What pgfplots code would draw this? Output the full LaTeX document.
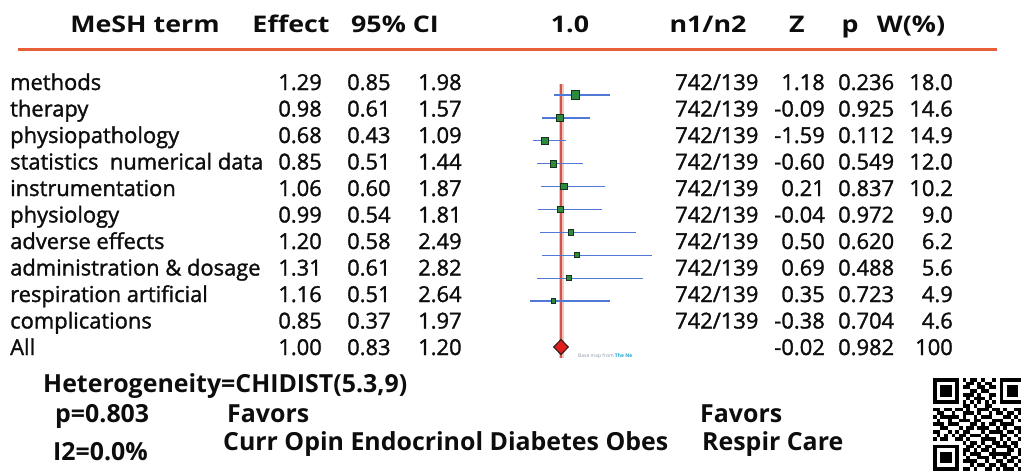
\documentclass[border=0pt]{standalone}
\usepackage{pgfplots}
\pgfplotsset{compat=1.18}
\usepackage{pgfplotstable}
\usepackage{fontspec}
\setmainfont{Open Sans}
\newfontfamily\bodyfont{Open Sans}[FakeBold=1.4]
\newfontfamily\hdrfont{Open Sans}[FakeStretch=1.17]
\definecolor{txt}{rgb}{0.05,0.05,0.05}
\definecolor{hline}{RGB}{230,95,55}
\definecolor{refred}{RGB}{205,85,75}
\definecolor{refhalo}{RGB}{245,195,190}
\definecolor{ciblue}{RGB}{80,120,215}
\definecolor{sqfill}{RGB}{45,140,60}
\definecolor{sqdraw}{RGB}{25,50,30}
\definecolor{dred}{RGB}{225,30,30}
\definecolor{ddark}{RGB}{60,30,30}
\definecolor{basegray}{RGB}{140,150,170}
\definecolor{basecyan}{RGB}{30,165,210}

\pgfplotstableread{
y eff lo hi w
95.0 1.29 0.85 1.98 18.0
117.9 0.98 0.61 1.57 14.6
140.8 0.68 0.43 1.09 14.9
163.7 0.85 0.51 1.44 12.0
186.6 1.06 0.60 1.87 10.2
209.5 0.99 0.54 1.81 9.0
232.4 1.20 0.58 2.49 6.2
255.3 1.31 0.61 2.82 5.6
278.2 1.16 0.51 2.64 4.9
301.1 0.85 0.37 1.97 4.6
}\fdata

\def\qrloop#1{%
  \ifx\relax#1\else
    \ifnum#1=1 \fill[black] (933+\qrx*3.7,378+\qry*3.7) rectangle ++(3.75,3.75);\fi
    \pgfmathtruncatemacro\qrx{\qrx+1}%
    \expandafter\qrloop
  \fi}

\begin{document}
\begin{tikzpicture}
\path[use as bounding box] (0,0) rectangle (1021bp,-473bp);
\begin{axis}[at={(0,0)}, anchor=north west, scale only axis,
  width=1021bp, height=473bp,
  xmin=-10.22, xmax=10.2, ymin=0, ymax=473, y dir=reverse,
  hide axis, clip=false]
\addplot[draw=refhalo, line width=5bp, forget plot] coordinates {(1,84) (1,358)};
\addplot[draw=refred, line width=2.2bp, forget plot] coordinates {(1,84) (1,358)};
\addplot[only marks, mark=none, forget plot,
  error bars/.cd, x dir=both, x explicit, error mark=none,
  error bar style={draw=ciblue, line width=1.3bp, solid}]
  table[x=eff, y=y,
    x error plus expr=\thisrow{hi}-\thisrow{eff},
    x error minus expr=\thisrow{eff}-\thisrow{lo}] \fdata;
\addplot[only marks, scatter, mark=square*, point meta=\thisrow{w},
  scatter/use mapped color={draw=sqdraw, fill=sqfill},
  visualization depends on={1.8+0.13*\thisrow{w} \as \ms},
  scatter/@pre marker code/.append style={/tikz/mark size=\ms},
  line width=0.9bp, forget plot]
  table[x=eff, y=y] \fdata;
\addplot[only marks, mark=diamond*, mark size=7.5,
  mark options={fill=dred, draw=ddark, line width=1.2bp, xscale=1.3}, forget plot]
  coordinates {(1.00,347)};
\end{axis}

\begin{scope}[x=1bp, y=-1bp, every node/.style={inner sep=0pt, text=txt}]
% header
\begin{scope}[every node/.append style={anchor=base, font=\hdrfont\fontsize{23}{26}\selectfont\bfseries}]
\node at (145,32) {MeSH term};
\node at (291,32) {Effect};
\node at (395,32) {95\% CI};
\node at (570,32) {1.0};
\node at (708,32) {n1/n2};
\node at (797,32) {Z};
\node at (850,32) {p};
\node at (911,32) {W(\%)};
\end{scope}
\draw[hline, line width=3bp] (18,49) -- (997,49);
% rows
\begin{scope}[every node/.append style={font=\bodyfont\fontsize{22}{26}\selectfont}]
\foreach \nm/\e/\l/\h/\z/\p/\w [count=\i from 0] in {
  methods/1.29/0.85/1.98/1.18/0.236/18.0,
  therapy/0.98/0.61/1.57/-0.09/0.925/14.6,
  physiopathology/0.68/0.43/1.09/-1.59/0.112/14.9,
  statistics~~numerical data/0.85/0.51/1.44/-0.60/0.549/12.0,
  instrumentation/1.06/0.60/1.87/0.21/0.837/10.2,
  physiology/0.99/0.54/1.81/-0.04/0.972/9.0,
  adverse effects/1.20/0.58/2.49/0.50/0.620/6.2,
  administration \& dosage/1.31/0.61/2.82/0.69/0.488/5.6,
  respiration artificial/1.16/0.51/2.64/0.35/0.723/4.9,
  complications/0.85/0.37/1.97/-0.38/0.704/4.6}{
  \pgfmathsetmacro\yy{90+26.5*\i}
  \node[anchor=base west] at (10,\yy) {\nm};
  \node[anchor=base east] at (322,\yy) {\e};
  \node[anchor=base west] at (347,\yy) {\l};
  \node[anchor=base west] at (418,\yy) {\h};
  \node[anchor=base west] at (675,\yy) {742/139};
  \node[anchor=base east] at (825,\yy) {\z};
  \node[anchor=base west] at (838,\yy) {\p};
  \node[anchor=base east] at (953,\yy) {\w};
}
\node[anchor=base west] at (10,355) {All};
\node[anchor=base east] at (322,355) {1.00};
\node[anchor=base west] at (347,355) {0.83};
\node[anchor=base west] at (418,355) {1.20};
\node[anchor=base east] at (825,355) {-0.02};
\node[anchor=base west] at (838,355) {0.982};
\node[anchor=base east] at (953,355) {100};
\end{scope}
\node[anchor=base west, font=\fontsize{5}{6}\selectfont, text=basegray] at (578,357) {Base map from \textcolor{basecyan}{\bfseries The Ne}};
% bottom
\begin{scope}[every node/.append style={anchor=base west, font=\fontsize{25}{28}\selectfont\bfseries}]
\node at (43,392) {Heterogeneity=CHIDIST(5.3,9)};
\node at (55,422) {p=0.803};
\node at (53,460) {I2=0.0\%};
\node at (227,422) {Favors};
\node at (223,450) {Curr Opin Endocrinol Diabetes Obes};
\node at (700,422) {Favors};
\node at (702,450) {Respir Care};
\end{scope}
% QR-like code
\foreach \s [count=\qry from 0] in {
1111111010110100101111111,
1000001001101011001000001,
1011101011001101101011101,
1011101000110110001011101,
1011101011101001101011101,
1000001001011101001000001,
1111111010101010101111111,
0000000011010011000000000,
1101101101001110110100110,
0110010011101001011011011,
1011111010010111000110101,
0100100111011000111001010,
1110111000110101101111001,
0011000101101110010100111,
1100101011000101111011010,
0101010110111010001100101,
1011001101000111101010011,
0000000010110100110101100,
1111111001101011011110101,
1000001011010110100011010,
1011101010111001111110011,
1011101001001110100101101,
1011101011110010011011010,
1000001000101101101100101,
1111111011010011010111011}{
  \def\qrx{0}%
  \expandafter\qrloop\s\relax
}
\end{scope}
\end{tikzpicture}
\end{document}
